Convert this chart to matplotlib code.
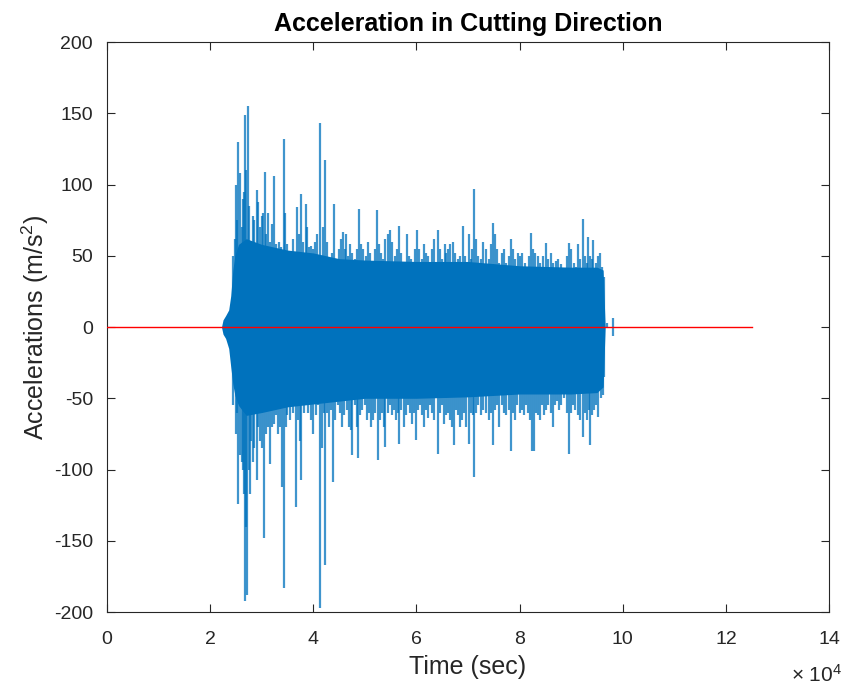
"""
Acceleration in cutting direction - MATLAB-style vibration trace.
The dense record is summarised by a core envelope plus the visible spike tops.
"""

import numpy as np
import matplotlib
matplotlib.use("Agg")
import matplotlib.pyplot as plt
import matplotlib.ticker as mticker

C_BLUE = "#0072BD"
C_RED = "#FF0000"
C_AXIS = "#262626"

plt.rcParams["font.family"] = ["Liberation Sans", "DejaVu Sans"]
plt.rcParams["mathtext.fontset"] = "custom"
plt.rcParams["mathtext.rm"] = "Liberation Sans"
plt.rcParams["mathtext.it"] = "Liberation Sans:italic"
plt.rcParams["axes.unicode_minus"] = False

# time values in units of 1e4 s, accelerations in m/s^2
CORE_T = [2.22, 2.25, 2.30, 2.36, 2.40, 2.44, 2.48, 2.55, 2.70, 3.00, 3.50,
          4.00, 4.50, 5.00, 6.00, 7.00, 8.00, 9.00, 9.50, 9.62, 9.66]
CORE_HI = [0, 5, 8, 12, 22, 40, 50, 58, 62, 58, 54,
           52, 48, 47, 46, 46, 43, 42, 42, 40, 0]
CORE_LO = [0, -5, -8, -15, -28, -40, -48, -55, -62, -60, -56,
           -54, -52, -50, -50, -49, -47, -47, -46, -42, 0]

UP_T = [2.45, 2.48, 2.51, 2.53, 2.55, 2.58, 2.61, 2.64, 2.66, 2.68, 2.70, 2.73,
        2.76, 2.80, 2.83, 2.86, 2.90, 2.93, 2.96, 3.00, 3.03, 3.06, 3.09, 3.12,
        3.16, 3.20, 3.23, 3.27, 3.30, 3.34, 3.38, 3.43, 3.46, 3.50, 3.55, 3.60,
        3.64, 3.68, 3.72, 3.77, 3.80, 3.85, 3.88, 3.92, 3.96, 4.00, 4.04, 4.08,
        4.14, 4.18, 4.23, 4.27, 4.32, 4.36, 4.40, 4.44, 4.50, 4.54, 4.57, 4.62,
        4.64, 4.68, 4.72, 4.76, 4.80, 4.85, 4.89, 4.93, 4.97, 5.02, 5.06, 5.10,
        5.15, 5.20, 5.24, 5.28, 5.32, 5.36, 5.40, 5.45, 5.49, 5.53, 5.58, 5.62,
        5.66, 5.70, 5.75, 5.81, 5.85, 5.90, 5.94, 5.98, 6.01, 6.05, 6.10, 6.14,
        6.18, 6.22, 6.26, 6.30, 6.35, 6.41, 6.45, 6.50, 6.55, 6.58, 6.62, 6.66,
        6.70, 6.75, 6.80, 6.85, 6.91, 6.95, 7.01, 7.05, 7.08, 7.12, 7.16, 7.20,
        7.25, 7.30, 7.35, 7.40, 7.44, 7.48, 7.52, 7.56, 7.60, 7.65, 7.70, 7.74,
        7.79, 7.83, 7.87, 7.92, 7.96, 8.01, 8.05, 8.10, 8.14, 8.18, 8.22, 8.26,
        8.30, 8.35, 8.40, 8.45, 8.51, 8.55, 8.60, 8.65, 8.70, 8.75, 8.80, 8.86,
        8.91, 8.96, 9.00, 9.05, 9.10, 9.14, 9.18, 9.22, 9.26, 9.30, 9.33, 9.37,
        9.40, 9.43, 9.48, 9.52, 9.56, 9.60, 9.64, 9.70, 9.82]
UP_V = [50, 62, 100, 75, 130, 108, 70, 90, 95, 149, 110, 155,
        85, 60, 78, 75, 96, 88, 70, 78, 80, 109, 65, 80,
        60, 72, 106, 58, 55, 60, 56, 132, 80, 58, 48, 62,
        50, 84, 65, 93, 60, 86, 70, 56, 57, 55, 60, 65,
        143, 70, 117, 60, 48, 52, 86, 48, 55, 62, 67, 55,
        65, 50, 58, 52, 48, 55, 83, 58, 55, 50, 60, 52,
        45, 55, 82, 58, 52, 48, 62, 65, 68, 60, 50, 55,
        71, 52, 45, 65, 50, 48, 42, 55, 68, 55, 48, 58,
        52, 50, 42, 55, 62, 68, 55, 48, 58, 52, 55, 58,
        60, 52, 48, 50, 71, 50, 65, 48, 55, 97, 62, 50,
        48, 60, 55, 48, 58, 73, 65, 55, 45, 52, 55, 45,
        50, 62, 55, 48, 52, 50, 52, 45, 42, 50, 66, 55,
        52, 50, 45, 50, 59, 48, 52, 45, 46, 48, 44, 40,
        50, 59, 55, 45, 42, 58, 48, 76, 50, 45, 63, 50,
        48, 61, 45, 50, 52, 42, 35, 3, 6]

LO_T = [2.45, 2.50, 2.53, 2.55, 2.58, 2.61, 2.64, 2.66, 2.68, 2.70, 2.72, 2.75,
        2.77, 2.80, 2.83, 2.86, 2.90, 2.93, 2.96, 3.00, 3.04, 3.08, 3.12, 3.16,
        3.20, 3.24, 3.28, 3.32, 3.36, 3.39, 3.43, 3.47, 3.50, 3.55, 3.60, 3.66,
        3.70, 3.74, 3.77, 3.82, 3.86, 3.90, 3.95, 4.00, 4.05, 4.09, 4.13, 4.17,
        4.20, 4.23, 4.27, 4.31, 4.35, 4.39, 4.43, 4.47, 4.52, 4.56, 4.60, 4.65,
        4.70, 4.73, 4.76, 4.80, 4.84, 4.87, 4.91, 4.95, 5.00, 5.04, 5.08, 5.12,
        5.16, 5.20, 5.25, 5.29, 5.33, 5.37, 5.40, 5.44, 5.48, 5.52, 5.57, 5.61,
        5.64, 5.67, 5.71, 5.75, 5.79, 5.83, 5.87, 5.91, 5.95, 5.99, 6.03, 6.07,
        6.11, 6.15, 6.19, 6.23, 6.27, 6.31, 6.35, 6.41, 6.45, 6.49, 6.53, 6.57,
        6.61, 6.65, 6.69, 6.73, 6.77, 6.81, 6.85, 6.89, 6.93, 6.97, 7.01, 7.05,
        7.09, 7.12, 7.16, 7.20, 7.25, 7.30, 7.35, 7.40, 7.44, 7.49, 7.53, 7.57,
        7.61, 7.65, 7.70, 7.74, 7.79, 7.83, 7.87, 7.91, 7.95, 8.00, 8.04, 8.08,
        8.12, 8.16, 8.20, 8.24, 8.27, 8.31, 8.35, 8.39, 8.43, 8.47, 8.52, 8.56,
        8.60, 8.64, 8.68, 8.72, 8.77, 8.81, 8.86, 8.91, 8.96, 9.00, 9.04, 9.08,
        9.13, 9.17, 9.22, 9.26, 9.30, 9.34, 9.37, 9.41, 9.45, 9.49, 9.53, 9.57,
        9.61, 9.64, 9.82]
LO_V = [-55, -75, -60, -124, -90, -95, -100, -117, -192, -140, -188, -100,
        -117, -80, -95, -85, -107, -70, -80, -85, -148, -75, -70, -96,
        -70, -68, -62, -75, -70, -112, -183, -70, -62, -65, -60, -126,
        -65, -80, -107, -60, -55, -60, -65, -75, -62, -55, -197, -85,
        -60, -167, -60, -70, -58, -109, -65, -55, -60, -70, -62, -58,
        -70, -72, -90, -55, -70, -92, -62, -58, -55, -65, -60, -70,
        -65, -60, -93, -65, -60, -70, -84, -60, -55, -62, -58, -65,
        -60, -82, -58, -70, -62, -55, -60, -68, -60, -79, -58, -55,
        -62, -70, -58, -64, -55, -60, -65, -89, -60, -55, -68, -62,
        -60, -65, -70, -83, -58, -62, -70, -65, -60, -70, -82, -60,
        -62, -105, -60, -55, -62, -58, -60, -65, -60, -83, -58, -55,
        -70, -55, -60, -62, -58, -87, -60, -65, -55, -60, -58, -62,
        -55, -60, -65, -87, -87, -60, -62, -65, -55, -62, -58, -55,
        -60, -70, -55, -52, -58, -55, -50, -60, -89, -60, -55, -58,
        -62, -65, -77, -60, -65, -58, -83, -62, -58, -55, -63, -50,
        -48, -35, -6]

REF_T = [0.0, 12.5]
REF_V = [0.0, 0.0]

SCALE = 1e4


def main():
    fig = plt.figure(figsize=(8.45, 6.9), dpi=100, facecolor="white")
    ax = fig.add_axes([0.1266, 0.113, 0.8545, 0.8261])

    core_t = np.array(CORE_T) * SCALE
    ax.fill_between(core_t, CORE_LO, CORE_HI, color=C_BLUE, lw=0, zorder=2)
    ax.vlines(np.array(UP_T) * SCALE, 0, UP_V, color=C_BLUE, lw=1.6,
              alpha=0.75, zorder=2)
    ax.vlines(np.array(LO_T) * SCALE, LO_V, 0, color=C_BLUE, lw=1.6,
              alpha=0.75, zorder=2)
    ax.plot(np.array(REF_T) * SCALE, REF_V, color=C_RED, lw=1.0, zorder=3)

    ax.set_xlim(0, 14e4)
    ax.set_ylim(-200, 200)
    ax.set_xticks(np.arange(0, 14.01, 2) * SCALE)
    ax.set_yticks(np.arange(-200, 201, 50))

    # tick values shown in units of 1e4, MATLAB style exponent at lower right
    ax.xaxis.set_major_formatter(
        mticker.FuncFormatter(lambda v, _: f"{v / SCALE:g}"))
    fig.text(842 / 845, 1 - 686 / 690, r"$\times$ 10$^4$", ha="right",
             va="bottom", fontsize=15, color=C_AXIS)

    ax.tick_params(direction="in", length=6, width=0.8, top=True, right=True,
                   colors=C_AXIS, labelsize=14)
    ax.tick_params(axis="x", pad=14)
    ax.tick_params(axis="y", pad=10)
    for sp in ax.spines.values():
        sp.set_color(C_AXIS)
        sp.set_linewidth(0.8)

    ax.set_title("Acceleration in Cutting Direction", fontsize=18,
                 fontweight="bold", color="black", pad=8)
    ax.set_xlabel("Time (sec)", fontsize=18, color=C_AXIS, labelpad=5)
    ax.set_ylabel("Accelerations (m/s$^2$)", fontsize=18, color=C_AXIS,
                  labelpad=2)

    fig.savefig("out.png", dpi=100, facecolor="white")


if __name__ == "__main__":
    main()
